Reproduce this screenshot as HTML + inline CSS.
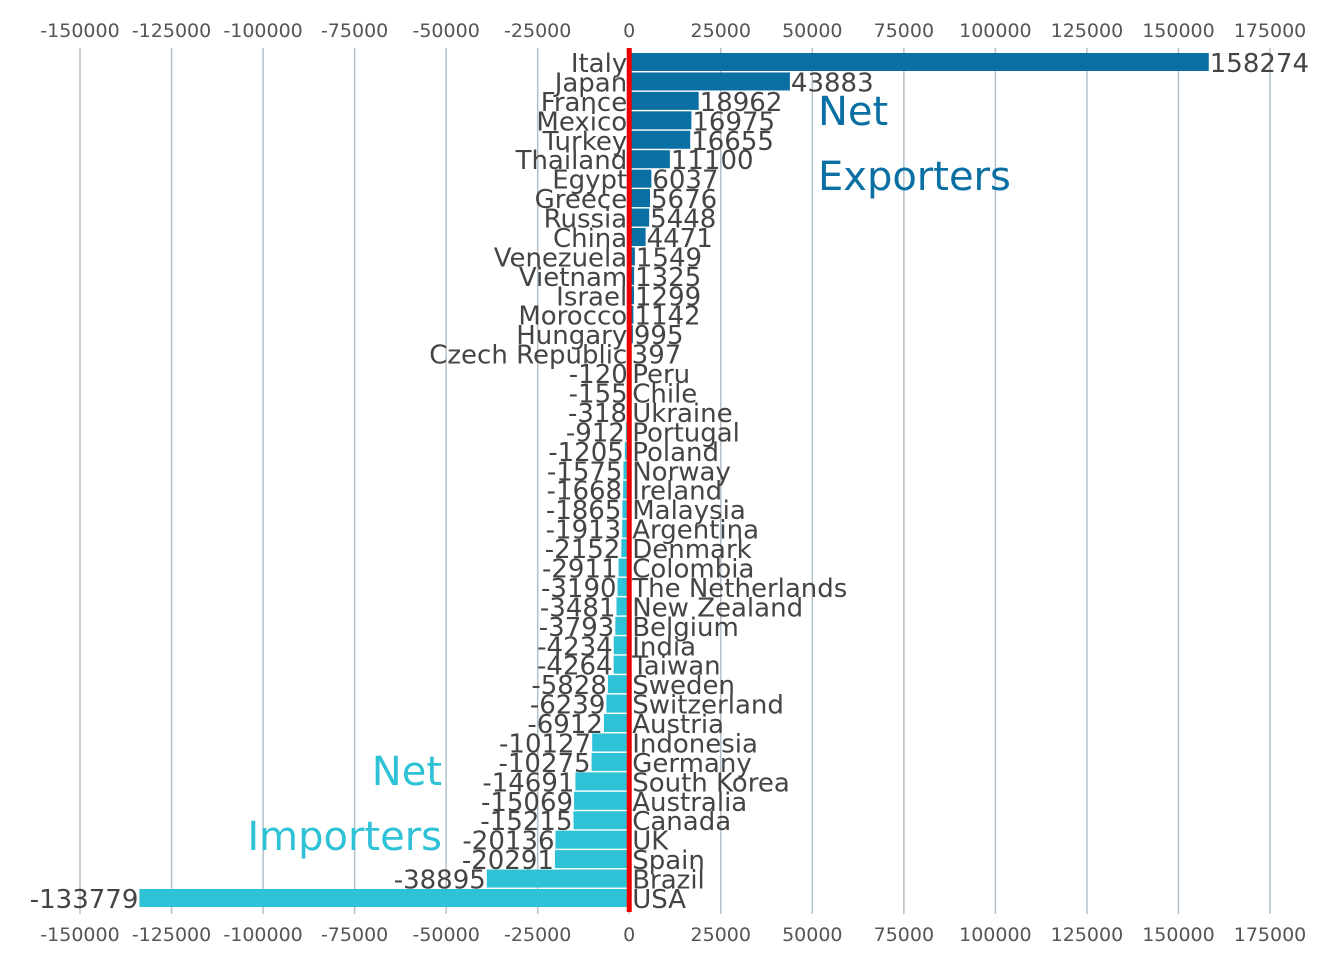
<!DOCTYPE html>
<html><head><meta charset="utf-8"><style>
body{margin:0;background:#fff;}
svg{display:block;font-family:"DejaVu Sans","Liberation Sans",sans-serif;}
</style></head><body>
<svg id="chart" width="1344" height="960"></svg>
<script>
const countries=["Italy","Japan","France","Mexico","Turkey","Thailand","Egypt","Greece","Russia","China","Venezuela","Vietnam","Israel","Morocco","Hungary","Czech Republic","Peru","Chile","Ukraine","Portugal","Poland","Norway","Ireland","Malaysia","Argentina","Denmark","Colombia","The Netherlands","New Zealand","Belgium","India","Taiwan","Sweden","Switzerland","Austria","Indonesia","Germany","South Korea","Australia","Canada","UK","Spain","Brazil","USA"];
const values=[158274,43883,18962,16975,16655,11100,6037,5676,5448,4471,1549,1325,1299,1142,995,397,-120,-155,-318,-912,-1205,-1575,-1668,-1865,-1913,-2152,-2911,-3190,-3481,-3793,-4234,-4264,-5828,-6239,-6912,-10127,-10275,-14691,-15069,-15215,-20136,-20291,-38895,-133779];
const ticks=[-150000,-125000,-100000,-75000,-50000,-25000,0,25000,50000,75000,100000,125000,150000,175000];
const NS="http://www.w3.org/2000/svg";
const svg=document.getElementById("chart");
const x0=80,x1=1270,vmin=-150000,vmax=175000;
const xs=v=>x0+(v-vmin)/(vmax-vmin)*(x1-x0);
const yTop=62,step=(898-62)/(countries.length-1);
const ys=i=>yTop+i*step;
function mk(tag,attrs,txt){const e=document.createElementNS(NS,tag);for(const k in attrs)e.setAttribute(k,attrs[k]);if(txt!==undefined)e.textContent=txt;svg.appendChild(e);return e;}
ticks.forEach(t=>{
  const g=mk("line",{x1:xs(t),x2:xs(t),y1:48,y2:914,stroke:"#b4c0ca","stroke-width":1.5});
  
  
  const a=mk("text",{x:xs(t),y:37,"text-anchor":"middle","font-size":19,fill:"#555"},t);
  
  
  const b=mk("text",{x:xs(t),y:941,"text-anchor":"middle","font-size":19,fill:"#555"},t);
  
  
});
countries.forEach((c,i)=>{
  const v=values[i],y=ys(i),z=xs(0),xv=xs(v);
  const pos=v>=0;
  const r=mk("rect",{x:Math.min(z,xv),y:y-9,width:Math.abs(xv-z),height:18,fill:pos?"#0a6fa3":"#2fc1d6"});
  
  
  const n=mk("text",{x:pos?z-2:z+3,y:y+10,"text-anchor":pos?"end":"start","font-size":26,fill:"#444"},c);
  
  
  const vl=mk("text",{x:pos?xv+1:xv-1,y:y+10,"text-anchor":pos?"start":"end","font-size":26,fill:"#444"},v);
  
  
});
const zl=mk("line",{x1:xs(0),x2:xs(0),y1:48,y2:912,stroke:"#ee0000","stroke-width":5});


[["Net",818,125,"start","#0a6fa3"],["Exporters",818,190,"start","#0a6fa3"],["Net",442,785,"end","#2fc1d6"],["Importers",442,850,"end","#2fc1d6"]].forEach(a=>{
  const t=mk("text",{x:a[1],y:a[2],"text-anchor":a[3],"font-size":40,fill:a[4]},a[0]);
  
  
});
</script>
</body></html>
